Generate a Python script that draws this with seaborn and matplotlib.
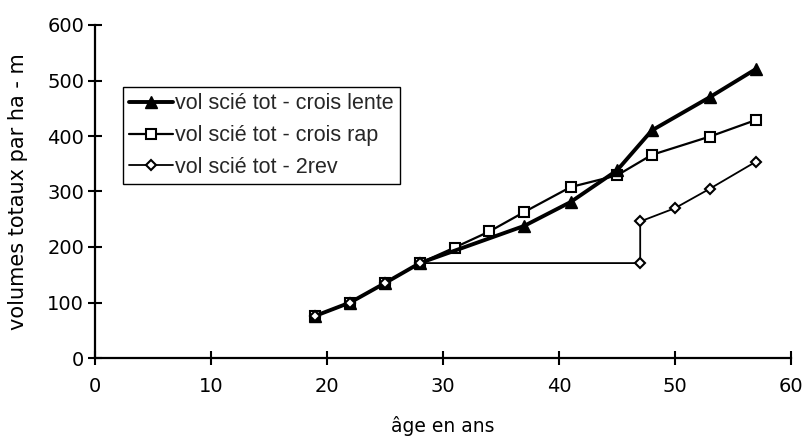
import matplotlib
matplotlib.use("Agg")
import matplotlib.pyplot as plt
import seaborn as sns
import pandas as pd

# Volumes sciés totaux (m3/ha) selon l'âge du peuplement
age_lente = [19, 22, 25, 28, 37, 41, 45, 48, 53, 57]
vol_lente = [76, 100, 135, 171, 238, 281, 338, 410, 470, 521]

age_rap = [19, 22, 25, 28, 31, 34, 37, 41, 45, 48, 53, 57]
vol_rap = [76, 100, 135, 171, 199, 228, 263, 308, 329, 366, 399, 429]

age_2rev = [19, 22, 25, 28, 47, 47, 50, 53, 57]
vol_2rev = [76, 100, 135, 171, 171, 246, 270, 305, 354]

labels = ["vol scié tot - crois lente", "vol scié tot - crois rap", "vol scié tot - 2rev"]
x_ticks = [0, 10, 20, 30, 40, 50, 60]
y_ticks = [0, 100, 200, 300, 400, 500, 600]

sns.set_theme(style="white")
plt.rcParams["font.family"] = ["DejaVu Sans"]

fig = plt.figure(figsize=(8.08, 4.36), dpi=100)
ax = fig.add_axes([95 / 808, 1 - 358 / 436, (791 - 95) / 808, (358 - 25) / 436])

df_rap = pd.DataFrame({"age": age_rap, "vol": vol_rap})
df_lente = pd.DataFrame({"age": age_lente, "vol": vol_lente})
df_2rev = pd.DataFrame({"age": age_2rev, "vol": vol_2rev})

sns.lineplot(data=df_rap, x="age", y="vol", ax=ax, estimator=None, sort=False,
             color="black", linewidth=1.6, marker="s", markersize=7.5,
             markerfacecolor="white", markeredgecolor="black", markeredgewidth=1.5,
             label=labels[1], zorder=3)
sns.lineplot(data=df_lente, x="age", y="vol", ax=ax, estimator=None, sort=False,
             color="black", linewidth=2.8, marker="^", markersize=8,
             markerfacecolor="black", markeredgecolor="black", markeredgewidth=1,
             label=labels[0], zorder=4)
sns.lineplot(data=df_2rev, x="age", y="vol", ax=ax, estimator=None, sort=False,
             color="black", linewidth=1.3, marker="D", markersize=5.5,
             markerfacecolor="white", markeredgecolor="black", markeredgewidth=1.5,
             label=labels[2], zorder=5)

ax.set_xlim(0, 60)
ax.set_ylim(0, 600)
ax.set_xticks(x_ticks)
ax.set_yticks(y_ticks)
ax.set_xticklabels([str(t) for t in x_ticks])
ax.set_yticklabels([str(t) for t in y_ticks])

for side in ["top", "right"]:
    ax.spines[side].set_visible(False)
for side in ["left", "bottom"]:
    ax.spines[side].set_color("black")
    ax.spines[side].set_linewidth(1.6)
ax.tick_params(axis="both", which="major", bottom=True, left=True,
               direction="inout", length=9.5, width=1.5,
               colors="black", labelsize=14)
ax.tick_params(axis="x", pad=9)
ax.tick_params(axis="y", pad=3)

ax.set_xlabel("âge en ans", fontsize=13.5, color="black", labelpad=14)
ax.set_ylabel("volumes totaux par ha - m", fontsize=15, color="black", labelpad=14)
ax.grid(False)

handles, lbls = ax.get_legend_handles_labels()
order = [lbls.index(l) for l in labels]
leg = ax.legend([handles[i] for i in order], [lbls[i] for i in order],
                loc="upper left", bbox_to_anchor=(123 / 808, 1 - 87 / 436),
                bbox_transform=fig.transFigure, frameon=True, fancybox=False,
                edgecolor="black", framealpha=1,
                prop={"family": "Liberation Sans", "size": 15.5},
                handlelength=2.0, handletextpad=0.1, borderpad=0.3,
                labelspacing=0.5, borderaxespad=0)
leg.get_frame().set_linewidth(1.0)

fig.savefig("out.png", dpi=100)
